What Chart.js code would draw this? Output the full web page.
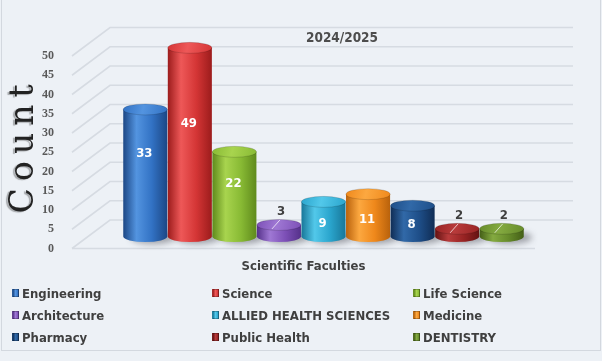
<!DOCTYPE html>
<html>
<head>
<meta charset="utf-8">
<script src="https://cdn.jsdelivr.net/npm/chart.js"></script>
<style>
  body { margin: 0; background: #edf1f6; }
  #wrap { position: relative; width: 602px; height: 361px; overflow: hidden; }
  #frame { position: absolute; left: 1px; top: -1px; width: 598px; height: 350px; border: 1px solid #d3d8df; }
  #legend {
    position: absolute; left: 12px; top: 282px;
    display: grid; grid-template-columns: 200px 201px 180px; grid-auto-rows: 22px;
    font: bold 13px "DejaVu Sans Condensed", "DejaVu Sans", sans-serif; color: #3f3f3f;
  }
  .item { display: flex; align-items: center; white-space: nowrap; }
  .box { width: 7px; height: 8px; margin-right: 3px; border: 1px solid rgba(0,0,0,0.25); box-sizing: border-box; }
</style>
</head>
<body>
<div id="wrap">
  <canvas id="facultyChart" width="602" height="361"></canvas>
  <div id="frame"></div>
  <div id="legend"></div>
</div>
<script>
const faculties = ["Engineering", "Science", "Life Science", "Architecture", "ALLIED HEALTH SCIENCES", "Medicine", "Pharmacy", "Public Health", "DENTISTRY"];
const counts = [33, 49, 22, 3, 9, 11, 8, 2, 2];
const yMin = 0;
const yMax = 50;
const yStep = 5;

const barColors   = ["#3272c4", "#d43535", "#88ba34", "#7c4fb6", "#2aa5cd", "#ef881b", "#1e4e88", "#982323", "#668b2a"];
const lightColors = ["#5394e0", "#ee5858", "#a8d44e", "#9f78d4", "#52c8ea", "#fca840", "#3169a8", "#b83b3b", "#84aa40"];
const darkColors  = ["#1c4785", "#9c1c1c", "#5f8a1c", "#55318a", "#187799", "#b9620c", "#102d55", "#641212", "#445f17"];

// legend built from the same arrays
const legendEl = document.getElementById("legend");
faculties.forEach(function (name, i) {
    const item = document.createElement("div");
    item.className = "item";
    const box = document.createElement("span");
    box.className = "box";
    box.style.background = "linear-gradient(90deg," + darkColors[i] + "," + lightColors[i] + "," + barColors[i] + ")";
    item.appendChild(box);
    item.appendChild(document.createTextNode(name));
    legendEl.appendChild(item);
});

const labelFont = '"DejaVu Sans Condensed", "DejaVu Sans", sans-serif';

function drawCylinder(ctx, x, top, base, w, i) {
    const rx = w / 2;
    const ry = 5.5;

    // body
    const g = ctx.createLinearGradient(x - rx, 0, x + rx, 0);
    g.addColorStop(0, darkColors[i]);
    g.addColorStop(0.3, lightColors[i]);
    g.addColorStop(0.65, barColors[i]);
    g.addColorStop(1, darkColors[i]);
    ctx.fillStyle = g;
    ctx.beginPath();
    ctx.moveTo(x - rx, top);
    ctx.lineTo(x - rx, base);
    ctx.ellipse(x, base, rx, ry, 0, Math.PI, 0, true);
    ctx.lineTo(x + rx, top);
    ctx.closePath();
    ctx.fill();

    // top cap
    const t = ctx.createLinearGradient(x - rx, top - ry, x + rx, top + ry);
    t.addColorStop(0, barColors[i]);
    t.addColorStop(0.45, lightColors[i]);
    t.addColorStop(1, barColors[i]);
    ctx.fillStyle = t;
    ctx.beginPath();
    ctx.ellipse(x, top, rx, ry, 0, 0, Math.PI * 2);
    ctx.fill();
    ctx.strokeStyle = "rgba(0,0,0,0.15)";
    ctx.lineWidth = 1;
    ctx.stroke();
}

const cylinderPlugin = {
    id: "cylinders",
    beforeDatasetsDraw(chart) {
        const { ctx, chartArea: a, scales: { y } } = chart;
        ctx.save();
        ctx.strokeStyle = "#d6dbe2";
        ctx.lineWidth = 1.6;
        // back wall + side wall grid lines
        y.ticks.forEach(function (t) {
            const yb = y.getPixelForValue(t.value) - 16.5;
            const yf = y.getPixelForValue(t.value) + 12;
            ctx.beginPath();
            ctx.moveTo(a.left - 51, yf);
            ctx.lineTo(a.left - 13, yb);
            ctx.lineTo(a.right + 49, yb);
            ctx.stroke();
        });
        // floor front edge
        const y0 = y.getPixelForValue(0) + 12;
        ctx.beginPath();
        ctx.moveTo(a.left - 51, y0);
        ctx.lineTo(a.right + 11, y0);
        ctx.stroke();
        ctx.restore();
    },
    afterDatasetsDraw(chart) {
        const { ctx } = chart;
        const bars = chart.getDatasetMeta(0).data;
        ctx.save();
        // soft shadows first
        ctx.fillStyle = "rgba(40,40,50,0.4)";
        ctx.filter = "blur(3px)";
        bars.forEach(function (el) {
            ctx.beginPath();
            ctx.ellipse(el.x + 8, el.base + 1, el.width / 2, 6.5, 0, 0, Math.PI * 2);
            ctx.fill();
        });
        ctx.filter = "none";
        bars.forEach(function (el, i) {
            drawCylinder(ctx, el.x, el.y, el.base, el.width - 0.5, i);
        });
        // value labels
        ctx.font = "bold 13px " + labelFont;
        ctx.textAlign = "center";
        ctx.textBaseline = "middle";
        bars.forEach(function (el, i) {
            const h = el.base - el.y;
            if (counts[i] >= 5) {
                const off = Math.max(-19, Math.min(4, 4 - 0.33 * (h - 42)));
                ctx.fillStyle = "#ffffff";
                ctx.fillText(String(counts[i]), el.x - 1, (el.y + el.base) / 2 + off);
            } else {
                ctx.strokeStyle = "rgba(255,255,255,0.7)";
                ctx.lineWidth = 1;
                ctx.beginPath();
                ctx.moveTo(el.x - 7, el.y + 4);
                ctx.lineTo(el.x + 1, el.y - 5);
                ctx.stroke();
                ctx.fillStyle = "#3f3f3f";
                ctx.fillText(String(counts[i]), el.x + 2, el.y - 13);
            }
        });
        ctx.restore();
    },
    afterDraw(chart) {
        const { ctx, chartArea: a } = chart;
        const cx = (a.left + a.right) / 2;
        ctx.save();
        ctx.textAlign = "center";
        ctx.textBaseline = "middle";
        ctx.fillStyle = "#4d4d4d";
        ctx.font = "bold 13.5px " + labelFont;
        ctx.fillText("2024/2025", cx + 18.5, a.top - 6);
        ctx.fillStyle = "#404040";
        ctx.font = "bold 13px " + labelFont;
        ctx.fillText("Scientific Faculties", cx - 20, a.bottom + 30.5);

        // rotated axis title
        ctx.translate(a.left - 99, (a.top + a.bottom) / 2 + 8);
        ctx.rotate(-Math.PI / 2);
        ctx.font = '33px "DejaVu Serif", serif';
        ctx.letterSpacing = "7px";
        ctx.shadowColor = "rgba(0,0,0,0.3)";
        ctx.shadowOffsetX = -2;
        ctx.shadowOffsetY = 1;
        ctx.shadowBlur = 1;
        ctx.fillStyle = "#222222";
        ctx.fillText("Count", 3, 0);
        ctx.restore();
    }
};

new Chart("facultyChart", {
    type: "bar",
    data: {
        labels: faculties,
        datasets: [{
            data: counts,
            backgroundColor: "rgba(0,0,0,0)",
            borderWidth: 0,
            barPercentage: 1,
            categoryPercentage: 1
        }]
    },
    options: {
        responsive: false,
        animation: false,
        layout: { padding: { top: 44, right: 78, bottom: 124.5, left: 0 } },
        plugins: {
            legend: { display: false },
            tooltip: { enabled: false }
        },
        scales: {
            x: { display: false },
            y: {
                min: yMin,
                max: yMax,
                grid: { display: false },
                border: { display: false },
                ticks: {
                    stepSize: yStep,
                    padding: 61,
                    labelOffset: 12,
                    color: "#595959",
                    font: { family: "Liberation Serif", weight: "bold", size: 12 }
                },
                afterFit: function (scale) {
                    scale.width = 123;
                    scale.paddingTop = 7;
                    scale.paddingBottom = 7;
                }
            }
        }
    },
    plugins: [cylinderPlugin]
});
</script>
</body>
</html>
